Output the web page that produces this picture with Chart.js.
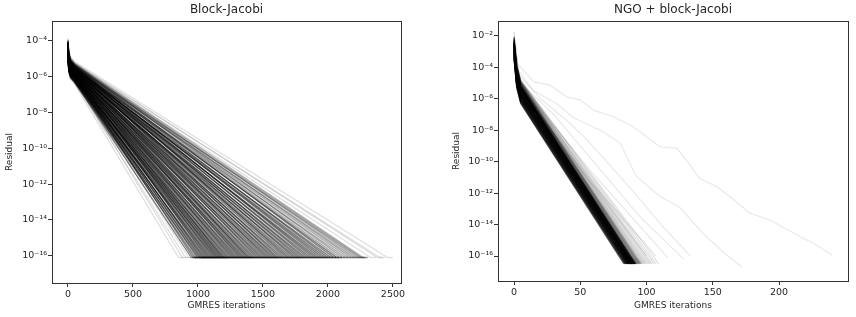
<!DOCTYPE html>
<html>
<head>
<meta charset="utf-8">
<script src="https://cdn.jsdelivr.net/npm/chart.js@4.4.1/dist/chart.umd.min.js"></script>
<style>
  body { margin: 0; background: #fff; }
  #wrap { position: relative; width: 856px; height: 317px; }
  canvas { position: absolute; top: 0; }
</style>
</head>
<body>
<div id="wrap">
  <canvas id="left" width="428" height="317" style="left:0"></canvas>
  <canvas id="right" width="428" height="317" style="left:428px"></canvas>
</div>
<script>
// ---- Block-Jacobi: iteration where each run hits the floor, and log10 residual at iteration 50
var bjConv = [
  850, 880, 905, 930, 950, 965, 980, 995,
  1005, 1015, 1025, 1035, 1045, 1055, 1065, 1075, 1085, 1095,
  1105, 1115, 1125, 1135, 1145, 1155, 1165, 1175, 1185, 1195,
  1205, 1218, 1230, 1242, 1255, 1268, 1280, 1292, 1305, 1318,
  1330, 1342, 1355, 1368, 1380, 1392, 1405, 1420, 1435, 1450,
  1465, 1480, 1495, 1510, 1525, 1540, 1555, 1570, 1585, 1600,
  1615, 1632, 1650, 1668, 1685, 1702, 1720, 1738, 1755, 1772,
  1790, 1808, 1826, 1845, 1864, 1883, 1902, 1921, 1940, 1960,
  1980, 2000, 2022, 2045, 2068, 2090, 2112, 2135, 2158, 2180,
  2200, 2220, 2240, 2255, 2270, 2330, 2380, 2400, 2460
];
var bjKnee = [
  -6.4, -6.2, -6.35, -6.1, -6.3, -6.0, -6.25, -6.15,
  -6.3, -6.05, -6.2, -5.95, -6.15, -6.25, -5.9, -6.1, -6.0, -6.2,
  -6.1, -5.85, -6.2, -6.0, -5.9, -6.15, -5.95, -6.05, -5.8, -6.1,
  -6.0, -5.85, -6.1, -5.9, -5.75, -6.05, -5.95, -5.8, -6.0, -5.7,
  -5.9, -5.75, -6.0, -5.8, -5.65, -5.95, -5.85, -5.7, -5.9, -5.6,
  -5.8, -5.65, -5.9, -5.7, -5.55, -5.85, -5.75, -5.6, -5.8, -5.5,
  -5.75, -5.55, -5.8, -5.6, -5.5, -5.7, -5.65, -5.45, -5.75, -5.5,
  -5.65, -5.5, -5.7, -5.45, -5.6, -5.4, -5.55, -5.65, -5.45, -5.5,
  -5.55, -5.4, -5.6, -5.35, -5.5, -5.45, -5.3, -5.55, -5.4, -5.35,
  -5.45, -5.3, -5.4, -5.35, -5.25, -5.3, -5.2, -5.25, -5.15
];
var bjHeadIter = [0, 6, 20];        // steep drop in the first iterations
var bjHeadRise = [1.3, 0.6, 0.25];  // decades above the value at iteration 50
var bjFloor = -16.1;
var bjTail = 40;

// ---- NGO + block-Jacobi: main bundle (floor iteration, log10 residual at iteration 5)
var ngoConv = [
  79.0, 79.5, 80.0, 80.3, 80.6, 81.0, 81.2, 81.5, 81.8, 82.0,
  82.2, 82.4, 82.6, 82.8, 83.0, 83.2, 83.4, 83.6, 83.8, 84.0,
  84.1, 84.2, 84.4, 84.5, 84.6, 84.8, 85.0, 85.1, 85.2, 85.4,
  85.5, 85.6, 85.8, 86.0, 86.2, 86.4, 86.6, 86.8, 87.0, 87.2,
  87.4, 87.7, 88.0, 88.3, 88.6, 89.0, 89.4, 89.8, 90.2, 90.6,
  91.0, 91.5, 92.0, 92.6, 93.2, 93.8, 94.5, 95.2, 96.0, 97.0,
  98.0, 99.0, 100.0, 101.5, 103.0, 105.0
];
var ngoKnee = [
  -6.3, -6.2, -6.25, -6.1, -6.15, -6.05, -6.1, -5.95, -6.0, -5.9,
  -5.95, -5.85, -5.9, -5.8, -5.85, -5.75, -5.8, -5.7, -5.75, -5.65,
  -5.7, -5.6, -5.65, -5.55, -5.6, -5.5, -5.55, -5.45, -5.5, -5.4,
  -5.45, -5.4, -5.35, -5.4, -5.3, -5.35, -5.3, -5.25, -5.3, -5.2,
  -5.25, -5.2, -5.2, -5.15, -5.2, -5.1, -5.15, -5.1, -5.05, -5.1,
  -5.05, -5.0, -5.05, -5.0, -4.95, -5.0, -4.95, -4.9, -4.95, -4.9,
  -4.9, -4.85, -4.9, -4.85, -4.8, -4.85
];
var ngoHeadIter = [0, 2];
var ngoHeadRise = [2.8, 1.0];
var ngoFloor = -16.0;

// slow NGO runs, traced one by one (iteration, log10 residual)
var ngoSlowIter = [
  [0, 3, 15, 27, 40, 50, 60, 75, 90, 100, 110, 123, 130, 140, 153, 163, 178, 193, 216, 226, 240],
  [0, 3, 15, 32, 45, 65, 80, 92, 110, 125, 143, 160, 172],
  [0, 4, 20, 40, 55, 87, 112, 133],
  [0, 5, 30, 60, 95, 128],
  [0, 5, 25, 60, 116],
  [0, 5, 20, 60, 107],
  [0, 5, 20, 100]
];
var ngoSlowRes = [
  [-1.75, -3.8, -4.92, -5.13, -5.88, -6.08, -6.72, -7.14, -7.78, -8.42, -9.05, -9.15, -9.9, -11.06, -11.59, -12.23, -13.28, -13.71, -14.77, -15.19, -15.95],
  [-1.8, -4.2, -5.5, -6.3, -7.2, -8.0, -8.8, -10.9, -12.2, -12.9, -14.6, -15.9, -16.7],
  [-2.2, -4.5, -6.0, -7.4, -8.6, -11.6, -14.1, -16.0],
  [-2.3, -5.0, -7.0, -10.0, -13.5, -16.2],
  [-2.4, -5.2, -7.2, -10.8, -16.1],
  [-2.5, -5.4, -7.1, -11.5, -16.0],
  [-2.5, -5.4, -7.2, -16.0]
];

var bjXTicks = [0, 500, 1000, 1500, 2000, 2500];
var bjYTicks = [-16, -14, -12, -10, -8, -6, -4];
var ngoXTicks = [0, 50, 100, 150, 200];
var ngoYTicks = [-16, -14, -12, -10, -8, -6, -4, -2];

var ink = "#262626";
var sup = { "-": "\u207b", "0": "\u2070", "1": "\u00b9", "2": "\u00b2", "3": "\u00b3", "4": "\u2074",
            "5": "\u2075", "6": "\u2076", "7": "\u2077", "8": "\u2078", "9": "\u2079" };

function powLabel(v) {
  var e = String(Math.round(Math.log10(v)));
  return "10" + e.split("").map(function (c) { return sup[c]; }).join("");
}

function pts(iters, res) {
  return iters.map(function (it, j) { return { x: it, y: Math.pow(10, res[j]) }; });
}

function line(data, alpha, width) {
  return {
    data: data,
    borderColor: "rgba(0,0,0," + alpha + ")",
    borderWidth: width || 1,
    pointRadius: 0,
    tension: 0,
    fill: false
  };
}

// Block-Jacobi datasets
var bjSets = bjConv.map(function (n, i) {
  var k = bjKnee[i];
  var it = bjHeadIter.concat([50, n, n + bjTail]);
  var r = bjHeadRise.map(function (d) { return k + d; }).concat([k, bjFloor, bjFloor]);
  var alpha = (i < 4 || i > bjConv.length - 5) ? 0.12 : (i > bjConv.length - 15 ? 0.32 : 0.5);
  return line(pts(it, r), alpha, 1.3);
});

// NGO datasets
var ngoSets = ngoConv.map(function (n, i) {
  var k = ngoKnee[i];
  var it = ngoHeadIter.concat([5, n, n + 4]);
  var r = ngoHeadRise.map(function (d) { return k + d; }).concat([k, ngoFloor, ngoFloor - 0.5]);
  var alpha = i <= 42 ? 0.55 : (i <= 52 ? 0.25 : 0.13);
  return line(pts(it, r), alpha, 1.2);
});
ngoSlowIter.forEach(function (it, i) {
  ngoSets.push(line(pts(it, ngoSlowRes[i]), 0.09, 1.2));
});

var frame = {
  id: "frame",
  afterDraw: function (chart) {
    var a = chart.chartArea, c = chart.ctx;
    c.save();
    c.strokeStyle = "#333";
    c.lineWidth = 1;
    c.strokeRect(Math.round(a.left) + 0.5, Math.round(a.top) + 0.5,
                 Math.round(a.right - a.left), Math.round(a.bottom - a.top));
    c.restore();
  }
};

function makeChart(id, o) {
  return new Chart(document.getElementById(id), {
    type: "line",
    data: { datasets: o.sets },
    plugins: [frame],
    options: {
      responsive: false,
      animation: false,
      events: [],
      layout: { padding: { left: o.padLeft, right: o.padRight, top: 0, bottom: 0 } },
      plugins: {
        legend: { display: false },
        tooltip: { enabled: false },
        title: {
          display: true, text: o.title, color: ink, fullSize: false,
          font: { family: "DejaVu Sans", size: 12, weight: "normal", lineHeight: 1 },
          padding: { top: 4, bottom: 5 }
        }
      },
      scales: {
        x: {
          type: "linear", min: o.xMin, max: o.xMax,
          afterBuildTicks: function (s) { s.ticks = o.xTicks.map(function (v) { return { value: v }; }); },
          afterFit: function (s) { s.height = o.xAxisH; },
          grid: { drawOnChartArea: false, drawTicks: true, tickLength: 4, tickColor: "#333" },
          border: { display: false },
          ticks: { color: ink, padding: 2, maxRotation: 0, font: { family: "DejaVu Sans", size: 9.5 },
                   callback: function (v) { return String(v); } },
          title: { display: true, text: "GMRES iterations", color: ink,
                   font: { family: "DejaVu Sans", size: 9, lineHeight: 1.2 }, padding: { top: 0, bottom: 5.6 } }
        },
        y: {
          type: "logarithmic", min: Math.pow(10, o.yMin), max: Math.pow(10, o.yMax),
          afterBuildTicks: function (s) { s.ticks = o.yTicks.map(function (e) { return { value: Math.pow(10, e) }; }); },
          afterFit: function (s) { s.width = o.yAxisW; },
          grid: { drawOnChartArea: false, drawTicks: true, tickLength: 4, tickColor: "#333" },
          border: { display: false },
          ticks: { color: ink, padding: 1, font: { family: "DejaVu Sans", size: 9.5 },
                   callback: function (v) { return powLabel(v); } },
          title: { display: true, text: "Residual", color: ink,
                   font: { family: "DejaVu Sans", size: 9, lineHeight: 1.2 }, padding: { top: o.yTitlePad, bottom: 0 } }
        }
      }
    }
  });
}

makeChart("left", {
  sets: bjSets, title: "Block-Jacobi",
  padLeft: 0, padRight: 27, yAxisW: 52, xAxisH: 34, yTitlePad: 4.6,
  xMin: -123, xMax: 2562, xTicks: bjXTicks,
  yMin: -17.49, yMax: -2.89, yTicks: bjYTicks
});

makeChart("right", {
  sets: ngoSets, title: "NGO + block-Jacobi",
  padLeft: 0, padRight: 8, yAxisW: 70, xAxisH: 36, yTitlePad: 23.6,
  xMin: -12.1, xMax: 252, xTicks: ngoXTicks,
  yMin: -17.59, yMax: -1.05, yTicks: ngoYTicks
});
</script>
</body>
</html>
